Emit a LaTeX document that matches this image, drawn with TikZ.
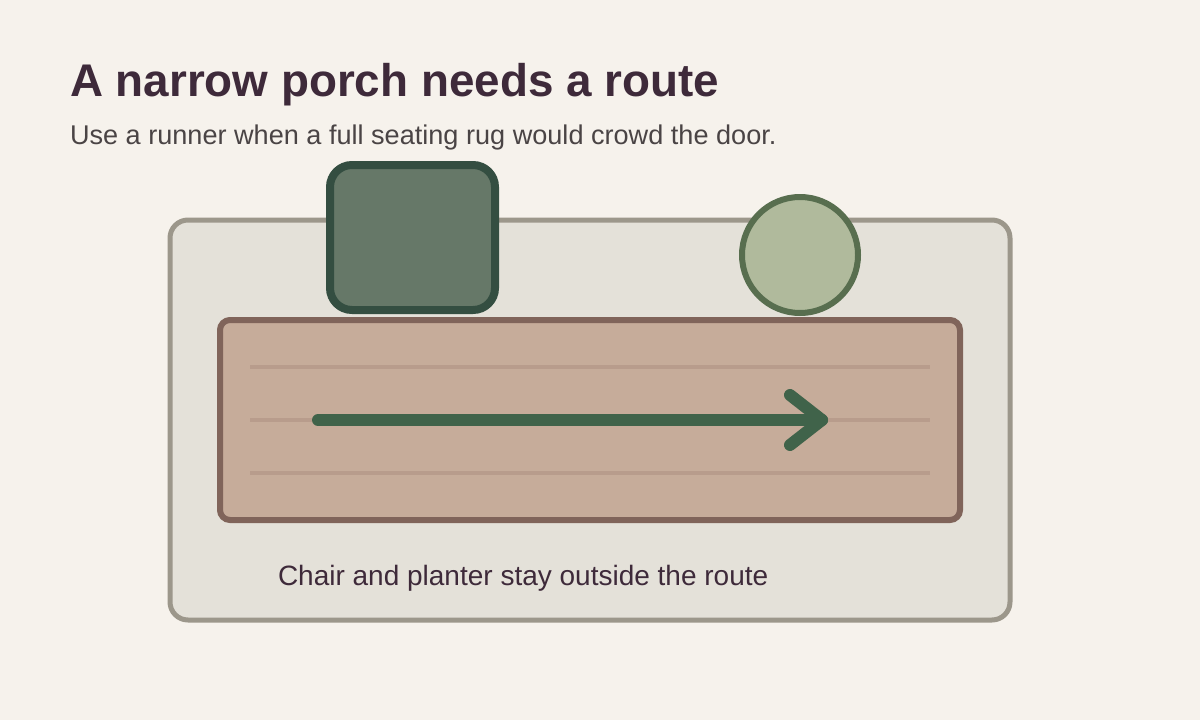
\documentclass[tikz,border=0pt]{standalone}
\usepackage{fontspec}
\setmainfont{Liberation Sans}
\definecolor{bg}{HTML}{F6F2EC}
\definecolor{porchfill}{HTML}{E4E1D9}
\definecolor{porchline}{HTML}{9C978B}
\definecolor{rugfill}{HTML}{C6AC9A}
\definecolor{rugline}{HTML}{80645A}
\definecolor{stripe}{HTML}{B89C8C}
\definecolor{chairfill}{HTML}{667868}
\definecolor{chairline}{HTML}{344E41}
\definecolor{potfill}{HTML}{B0BA9C}
\definecolor{potline}{HTML}{586E4F}
\definecolor{route}{HTML}{40634A}
\definecolor{titlec}{HTML}{3E2A3A}
\definecolor{subc}{HTML}{4A4445}
\tikzset{
  porch/.style={draw=porchline, fill=porchfill, line width=5pt, rounded corners=18pt},
  rug/.style={draw=rugline, fill=rugfill, line width=6pt, rounded corners=10pt},
  chair/.style={draw=chairline, fill=chairfill, line width=8pt, rounded corners=22pt},
  pot/.style={draw=potline, fill=potfill, line width=6pt},
  stripeline/.style={draw=stripe, line width=4pt},
  routeline/.style={draw=route, line width=12pt, line cap=round, line join=round},
  txt/.style={anchor=base west, inner sep=0pt, outer sep=0pt}
}
\begin{document}
\begin{tikzpicture}[x=1pt,y=-1pt]
\fill[bg] (0,0) rectangle (1200,720);
\useasboundingbox (0,0) rectangle (1200,720);
\node[txt, font=\bfseries\fontsize{45.8}{54}\selectfont, text=titlec] (title) at (70,96) {A narrow porch needs a route};
\node[txt, font=\fontsize{27.1}{32}\selectfont, text=subc] (sub) at (70,144) {Use a runner when a full seating rug would crowd the door.};
\path[porch] (170,220) rectangle (1010,620);
\path[rug] (220,320) rectangle (960,520);
\draw[stripeline] (250,367) -- (930,367);
\draw[stripeline] (250,420) -- (930,420);
\draw[stripeline] (250,473) -- (930,473);
\path[chair] (330,165) rectangle (495,310);
\node[pot, circle, minimum size=116pt, inner sep=0pt] (planter) at (800,255) {};
\coordinate (rs) at (318,420);
\coordinate (re) at (822,420);
\coordinate (ha) at (790,395);
\coordinate (hb) at (790,445);
\draw[routeline] (rs) -- (re);
\draw[routeline] (ha) -- (re) -- (hb);
\node[txt, font=\fontsize{28}{34}\selectfont, text=titlec] (cap) at (278,585) {Chair and planter stay outside the route};
\end{tikzpicture}
\end{document}
